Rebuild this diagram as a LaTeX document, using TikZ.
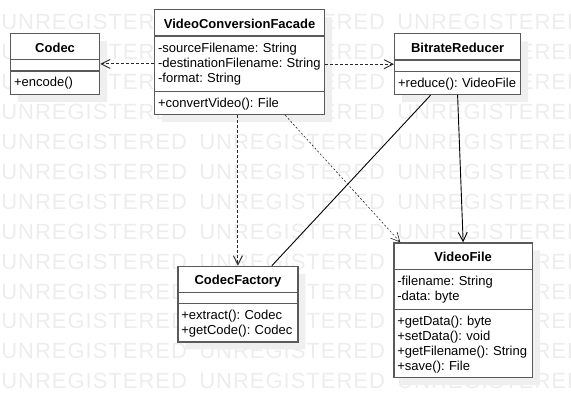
\documentclass[tikz,border=0pt]{standalone}
\usepackage{fontspec}
\setmainfont{Liberation Sans}
\newfontfamily\wmfont[LetterSpace=4.5]{Liberation Sans}
\usetikzlibrary{arrows.meta,shapes.multipart,shadows}
\definecolor{box_gray}{RGB}{90,90,90}
\definecolor{shadow_gray}{RGB}{239,239,239}
\definecolor{mark_gray}{RGB}{237,237,237}
\definecolor{line_dark}{RGB}{40,40,40}

\newcommand{\clsname}[1]{\hskip 0pt plus 1filll\rule[-3pt]{0pt}{17pt}\textbf{#1}\hskip 0pt plus 1filll\kern0pt}
\newcommand{\clsfirst}{\rule{0pt}{11.4pt}}
\newcommand{\clslast}{\rule[-4.6pt]{0pt}{4.6pt}}
\newcommand{\clsend}{\rule[-2.6pt]{0pt}{2.6pt}}
\newcommand{\clsempty}{\rule{0pt}{2pt}}

\begin{document}
\begin{tikzpicture}[x=1pt,y=-1pt,semithick,>={Straight Barb[length=9pt,width=9pt]}]
    \tikzstyle{cls}=[draw=box_gray, line width=1.2pt, fill=white, rectangle split, rectangle split parts=3,
      inner xsep=3.5pt, inner ysep=4pt, anchor=north west, align=left, font=\fontsize{13}{15}\selectfont\frenchspacing,
      drop shadow={shadow xshift=7.5pt,shadow yshift=-7.5pt,fill=shadow_gray,opacity=1}]
    \tikzstyle{wmark}=[text=mark_gray, anchor=base west, inner sep=0pt, font=\wmfont\fontsize{22}{22}\selectfont]
    \tikzstyle{dep}=[->, draw=line_dark, dash pattern=on 3pt off 2pt, line width=0.9pt]
    \tikzstyle{assoc}=[draw=black, line width=0.9pt]

    \useasboundingbox (0,0) rectangle (571,412);
    \foreach \r in {0,...,12}
      \foreach \c in {0,1,2}
        \node[wmark] (wm\r-\c) at ({1+198*\c},{29.9+29.9*\r}) {UNREGISTERED};

    \node[cls, text width=82pt] (cod) at (10,33) {\clsname{Codec}
      \nodepart{second}\clsempty
      \nodepart{third}\clsfirst +encode()\clsend};
    \node[cls, text width=163pt] (fac) at (154,9.3) {\clsname{VideoConversionFacade}
      \nodepart{second}\clsfirst -sourceFilename: String\\-destinationFilename: String\\-format: String\clslast
      \nodepart{third}\clsfirst +convertVideo(): File\clsend};
    \node[cls, text width=119pt] (br) at (394,33.3) {\clsname{BitrateReducer}
      \nodepart{second}\clsempty
      \nodepart{third}\clsfirst +reduce(): VideoFile\clsend};
    \node[cls, text width=113pt] (cf) at (177.3,265.7) {\clsname{CodecFactory}
      \nodepart{second}\clsempty
      \nodepart{third}\clsfirst +extract(): Codec\\+getCode(): Codec\clsend};
    \node[cls, text width=131.5pt] (vf) at (393.3,242.3) {\clsname{VideoFile}
      \nodepart{second}\clsfirst -filename: String\\-data: byte\clslast
      \nodepart{third}\clsfirst +getData(): byte\\+setData(): void\\+getFilename(): String\\+save(): File\clsend};

    \path
     (fac.west |- cod.east) edge[dep] (cod.east)
     (fac.east |- br.west) edge[dep] (br.west)
     (fac.south -| cf.north) edge[dep] (cf.north)
     ([xshift=-40pt]fac.south east) edge[dep, dash pattern=on 2pt off 2pt, line width=0.6pt] ([xshift=7pt]vf.north west)
     ([xshift=-27pt]br.south) edge[assoc] ([xshift=34pt]cf.north)
     (br.south) edge[assoc, ->] (vf.north)
     ;
\end{tikzpicture}
\end{document}
